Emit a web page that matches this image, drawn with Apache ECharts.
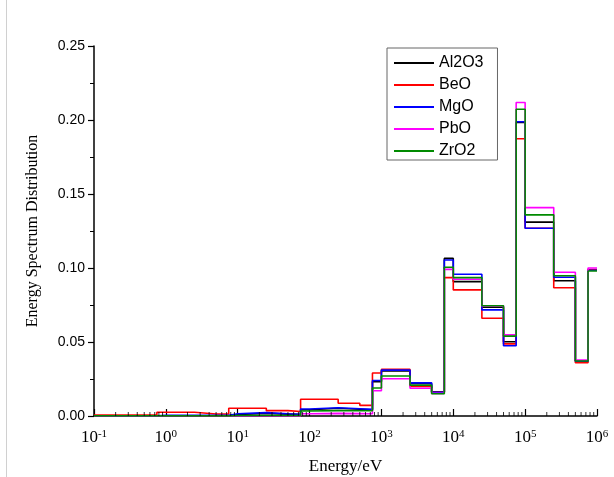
<!DOCTYPE html>
<html>
<head>
<meta charset="utf-8">
<script src="https://cdn.jsdelivr.net/npm/echarts@6/dist/echarts.min.js"></script>
<style>
html,body{margin:0;padding:0;background:#fff;}
#chart{width:614px;height:477px;}
</style>
</head>
<body>
<div id="chart"></div>
<script>
// Bin edges (eV)
var binEdges = [0.1,0.25,0.5,0.75,1,2.5,5,7.5,10,25,50,75,100,250,500,750,1e3,2.5e3,5e3,7.5e3,1e4,2.5e4,5e4,7.5e4,1e5,2.5e5,5e5,7.5e5,1e6];
var seriesNames = ['Al2O3','BeO','MgO','PbO','ZrO2'];
var al2o3 = [0.0002,0.0002,0.0002,0.0002,0.0002,0.0002,0.0002,0.0010,0.0018,0.0013,0.0010,0.0042,0.0052,0.0046,0.0042,0.0232,0.0305,0.0218,0.0163,0.1065,0.0908,0.0735,0.0502,0.1983,0.1310,0.0914,0.0372,0.0988];
var beo   = [0.0007,0.0007,0.0007,0.0025,0.0025,0.0014,0.0014,0.0052,0.0052,0.0036,0.0030,0.0113,0.0113,0.0086,0.0072,0.0291,0.0315,0.0200,0.0160,0.0935,0.0852,0.0660,0.0487,0.1873,0.1269,0.0867,0.0360,0.0990];
var mgo   = [0.0002,0.0002,0.0002,0.0005,0.0005,0.0005,0.0005,0.0015,0.0023,0.0015,0.0012,0.0047,0.0056,0.0049,0.0045,0.0240,0.0310,0.0224,0.0160,0.1054,0.0958,0.0717,0.0475,0.1988,0.1269,0.0937,0.0370,0.0985];
var pbo   = [0.0001,0.0001,0.0001,0.0001,0.0001,0.0001,0.0001,0.0001,0.0001,0.0001,0.0001,0.0015,0.0018,0.0016,0.0015,0.0171,0.0252,0.0188,0.0153,0.0991,0.0924,0.0744,0.0548,0.2118,0.1408,0.0971,0.0378,0.1000];
var zro2  = [0.0001,0.0001,0.0001,0.0001,0.0001,0.0001,0.0001,0.0003,0.0003,0.0003,0.0003,0.0034,0.0036,0.0035,0.0036,0.0189,0.0270,0.0208,0.0150,0.1005,0.0935,0.0745,0.0540,0.2073,0.1359,0.0948,0.0372,0.0980];
var seriesColors = ['#000000','#ff0000','#0000ff','#ff00ff','#008a00'];

function stepData(vals){
  var d = [];
  for (var i = 0; i < vals.length; i++) {
    d.push([binEdges[i], vals[i]]);
    d.push([binEdges[i+1], vals[i]]);
  }
  return d;
}
// minor ticks at 2..9 x 10^n
var minorTicks = [];
for (var e = -1; e < 6; e++) {
  for (var k = 2; k <= 9; k++) minorTicks.push([k*Math.pow(10,e), 0]);
}
var allVals = [al2o3, beo, mgo, pbo, zro2];
var series = seriesNames.map(function(n, i){
  return {
    name: n, type: 'line', data: stepData(allVals[i]),
    symbol: 'none', showSymbol: false, smooth: false,
    lineStyle: {color: seriesColors[i], width: 1.6},
    itemStyle: {color: seriesColors[i]},
    z: 3 + i, animation: false
  };
});
series.push({
  type: 'scatter', data: minorTicks, symbol: 'rect', symbolSize: [1, 4],
  symbolOffset: [0, -2], itemStyle: {color: '#000'}, silent: true,
  clip: false, z: 10, animation: false
});

var chart = echarts.init(document.getElementById('chart'));
chart.setOption({
  animation: false,
  backgroundColor: '#fff',
  grid: {left: 94, right: 17, top: 46, bottom: 61, containLabel: false, outerBoundsMode: 'none'},
  legend: {
    data: seriesNames.map(function(n){ return {name: n, icon: 'rect'}; }),
    orient: 'vertical', left: 387, top: 48,
    itemWidth: 40, itemHeight: 2, itemGap: 6,
    padding: [7, 14, 1, 7],
    borderColor: '#666', borderWidth: 1, backgroundColor: '#fff',
    textStyle: {fontFamily: 'Liberation Sans', fontSize: 16, lineHeight: 16, color: '#000'}
  },
  xAxis: {
    type: 'log', logBase: 10, min: 0.1, max: 1e6,
    name: 'Energy/eV', nameLocation: 'middle', nameGap: 42,
    nameTextStyle: {fontFamily: 'Liberation Serif', fontSize: 17, color: '#000'},
    axisLine: {lineStyle: {color: '#000', width: 1.5}},
    axisTick: {inside: true, length: 7, lineStyle: {color: '#000', width: 1.2}},
    splitLine: {show: false},
    axisLabel: {
      margin: 13, color: '#000',
      formatter: function(v){
        var p = Math.round(Math.log10(v));
        return '{b|10}{s|' + p + '}';
      },
      rich: {
        b: {fontFamily: 'Liberation Serif', fontSize: 17, color: '#000'},
        s: {fontFamily: 'Liberation Serif', fontSize: 11, color: '#000', verticalAlign: 'top'}
      }
    }
  },
  yAxis: {
    type: 'value', min: 0, max: 0.25, interval: 0.05,
    name: 'Energy Spectrum Distribution', nameLocation: 'middle', nameGap: 53,
    nameTextStyle: {fontFamily: 'Liberation Serif', fontSize: 16, color: '#000'},
    axisLine: {show: true, lineStyle: {color: '#000', width: 1.5}},
    axisTick: {show: true, inside: false, length: 6, lineStyle: {color: '#000', width: 1.2}},
    minorTick: {show: true, splitNumber: 2, length: 4, lineStyle: {color: '#000', width: 1}},
    splitLine: {show: false},
    axisLabel: {
      margin: 9, color: '#000', fontFamily: 'Liberation Sans', fontSize: 14,
      formatter: function(v){ return v.toFixed(2); }
    }
  },
  graphic: [{
    type: 'line', shape: {x1: 6.5, y1: 0, x2: 6.5, y2: 477},
    style: {stroke: '#d0d0d0', lineWidth: 1}, silent: true
  }],
  series: series
});
</script>
</body>
</html>
